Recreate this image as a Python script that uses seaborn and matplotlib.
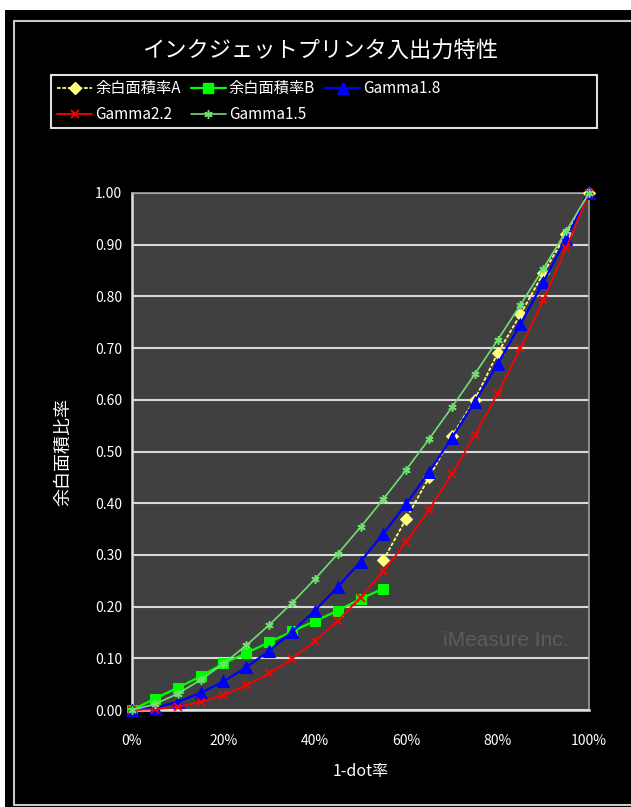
import matplotlib
matplotlib.use("Agg")
import matplotlib.pyplot as plt
import matplotlib.patches as mpatches
from matplotlib.lines import Line2D
from matplotlib.ticker import FuncFormatter
import seaborn as sns
import pandas as pd

# ---- data ----
x_all = [0, 5, 10, 15, 20, 25, 30, 35, 40, 45, 50, 55, 60, 65, 70, 75, 80, 85, 90, 95, 100]
x_a = [55, 60, 65, 70, 75, 80, 85, 90, 95, 100]
area_a = [0.29, 0.37, 0.45, 0.53, 0.60, 0.69, 0.765, 0.845, 0.92, 1.00]
x_b = [0, 5, 10, 15, 20, 25, 30, 35, 40, 45, 50, 55]
area_b = [0.0, 0.022, 0.043, 0.065, 0.09, 0.11, 0.131, 0.152, 0.172, 0.192, 0.215, 0.235]
gamma18 = [0.0, 0.0046, 0.0158, 0.0329, 0.0552, 0.0825, 0.1145, 0.1511, 0.1922, 0.2376,
           0.2872, 0.3409, 0.3987, 0.4605, 0.5262, 0.5958, 0.6692, 0.7464, 0.8273, 0.9118, 1.0]
gamma22 = [0.0, 0.0014, 0.0063, 0.0154, 0.0290, 0.0474, 0.0707, 0.0993, 0.1332, 0.1726,
           0.2176, 0.2684, 0.3250, 0.3876, 0.4562, 0.5311, 0.6121, 0.6994, 0.7931, 0.8933, 1.0]
gamma15 = [0.0, 0.0112, 0.0316, 0.0581, 0.0894, 0.125, 0.1643, 0.2071, 0.2530, 0.3019,
           0.3536, 0.4079, 0.4648, 0.5240, 0.5857, 0.6495, 0.7155, 0.7837, 0.8538, 0.9260, 1.0]
series_names = ["余白面積率A", "余白面積率B", "Gamma1.8", "Gamma2.2", "Gamma1.5"]
y_ticks = [0.0, 0.1, 0.2, 0.3, 0.4, 0.5, 0.6, 0.7, 0.8, 0.9, 1.0]
x_ticks = [0, 20, 40, 60, 80, 100]
title = "インクジェットプリンタ入出力特性"
x_label = "1-dot率"
y_label = "余白面積比率"

sns.set_style("dark")
plt.rcParams["font.family"] = ["Noto Sans CJK JP", "DejaVu Sans"]

W, H = 631, 807
fig = plt.figure(figsize=(W / 100, H / 100), dpi=100)
fig.patch.set_facecolor("white")

# black chart area and its border
fig.add_artist(mpatches.Rectangle((5 / W, 0), 1, 1 - 10 / H, transform=fig.transFigure,
                                  facecolor="black", edgecolor="none", zorder=-10))
bx0, by0, by1 = 13.5 / W, 1 - 804.5 / H, 1 - 20.5 / H
for xs, ys in [([bx0, bx0], [by0, by1]), ([bx0, 1.01], [by1, by1]), ([bx0, 1.01], [by0, by0])]:
    fig.add_artist(Line2D(xs, ys, transform=fig.transFigure, color="#C8C8C8", lw=1.5, zorder=-9))

# legend box
fig.add_artist(mpatches.Rectangle((50.5 / W, 1 - 127.5 / H), 546 / W, 52 / H,
                                  transform=fig.transFigure, facecolor="black",
                                  edgecolor="#E0E0E0", lw=1.5, zorder=-8))

ax = fig.add_axes([132 / W, 1 - 710 / H, 457 / W, 517 / H])
ax.set_facecolor("#404040")

styles = [
    dict(color="#FFFF80", marker="D", markersize=6, lw=1.3, ls=(0, (2, 1))),
    dict(color="#00FF00", marker="s", markersize=7, lw=1.6, ls="-"),
    dict(color="#0000FF", marker="^", markersize=8, lw=1.6, ls="-"),
    dict(color="#FF0000", marker="x", markersize=6, lw=1.3, ls="-", mew=1.3),
    dict(color="#70E070", marker=(6, 2, 0), markersize=6, lw=1.2, ls="-", mew=1.1),
]
data = [(x_a, area_a), (x_b, area_b), (x_all, gamma18), (x_all, gamma22), (x_all, gamma15)]
handles = []
for name, (xs, ys), st in zip(series_names, data, styles):
    df = pd.DataFrame({"x": xs, "y": ys})
    st = dict(st)
    color = st.pop("color")
    ls = st.pop("ls")
    sns.lineplot(data=df, x="x", y="y", ax=ax, color=color, linestyle=ls,
                 markeredgecolor=color, markerfacecolor=color, clip_on=False, zorder=3, **st)
    handles.append(Line2D([], [], color=color, linestyle=ls, markeredgecolor=color,
                          markerfacecolor=color, label=name, **st))

ax.set_xlim(0, 100)
ax.set_ylim(0, 1)
ax.set_xticks(x_ticks)
ax.set_yticks(y_ticks)
ax.xaxis.set_major_formatter(FuncFormatter(lambda v, p: f"{int(v)}%"))
ax.yaxis.set_major_formatter(FuncFormatter(lambda v, p: f"{v:.2f}"))
ax.grid(axis="y", color="#D8D8D8", lw=1.5)
ax.grid(axis="x", visible=False)
ax.set_axisbelow(True)
for side in ["left", "bottom", "top", "right"]:
    ax.spines[side].set_visible(True)
    ax.spines[side].set_color("#A0A0A0")
    ax.spines[side].set_linewidth(1.2)
ax.spines["left"].set_color("#E0E0E0")
ax.spines["bottom"].set_color("#E0E0E0")
ax.spines["left"].set_linewidth(1.8)
ax.spines["bottom"].set_linewidth(1.8)

ax.tick_params(axis="x", direction="in", length=4, width=1.2, color="#E0E0E0",
               labelcolor="white", labelsize=10, pad=17)
ax.tick_params(axis="y", length=0, labelcolor="white", labelsize=10, pad=7)

ax.set_xlabel(x_label, color="white", fontsize=11.5)
ax.xaxis.set_label_coords(0.5, -0.103)
ax.set_ylabel(y_label, color="white", fontsize=13)
ax.yaxis.set_label_coords(-0.13, 0.5)

ax.text(0.955, 0.135, "iMeasure Inc.", transform=ax.transAxes, ha="right", va="center",
        color="#5C5C5C", fontsize=15, family=["Liberation Sans", "DejaVu Sans"])

fig.text(320 / W, 1 - 50 / H, title, ha="center", va="center", color="white", fontsize=16)

order = [0, 3, 1, 4, 2]
leg = fig.legend([handles[i] for i in order], [series_names[i] for i in order],
                 ncol=3, loc="upper left", bbox_to_anchor=(57 / W, 1 - 80 / H),
                 frameon=False, labelcolor="white", fontsize=11, handlelength=2.3,
                 handletextpad=0.2, columnspacing=0.65, borderpad=0.0, borderaxespad=0.0,
                 labelspacing=0.6)

fig.savefig("out.png", dpi=100, facecolor="white")
